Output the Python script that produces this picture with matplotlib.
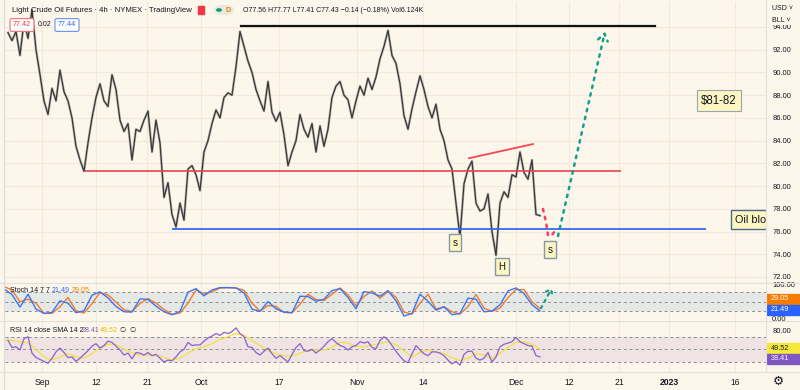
import numpy as np
import matplotlib
matplotlib.use('Agg')
import matplotlib.pyplot as plt
from matplotlib.patches import Rectangle, FancyBboxPatch, Circle
from matplotlib.lines import Line2D

plt.rcParams['font.family'] = ['Liberation Sans', 'DejaVu Sans']

# ---- data (x unit = one half-session bar) ----
price = [
    93.5, 92.8, 93.6, 91.5, 94.5, 93.0, 95.5, 92.0, 89.8, 87.5,
    86.3, 88.6, 87.5, 90.2, 88.3, 87.5, 86.0, 83.5, 82.3, 81.3,
    83.8, 86.0, 87.8, 89.0, 87.5, 87.0, 89.8, 88.5, 85.8, 84.8,
    85.5, 82.3, 85.0, 84.8, 85.8, 86.6, 83.0, 85.8, 83.8, 79.0,
    80.3, 77.5, 76.4, 78.5, 77.0, 81.5, 81.8, 81.0, 79.6, 83.0,
    84.0, 85.5, 86.7, 86.0, 87.8, 88.2, 88.0, 90.5, 93.6, 92.3,
    91.0, 90.0, 88.5, 87.5, 86.6, 89.2, 86.5, 85.7, 86.5, 84.5,
    81.8, 83.0, 84.0, 86.3, 85.0, 84.3, 85.5, 83.0, 85.3, 83.5,
    85.0, 87.8, 88.8, 89.2, 88.0, 87.6, 86.0, 87.5, 88.8, 88.0,
    89.5, 88.5, 89.6, 91.2, 92.3, 93.7, 91.5, 90.8, 89.0, 86.2,
    85.0, 86.8, 88.3, 89.7, 88.5, 87.0, 86.0, 87.2, 85.0, 84.0,
    82.3, 81.5, 78.5, 75.5, 80.2, 81.5, 82.2, 78.5, 77.8, 78.0,
    79.3, 76.0, 73.9, 78.5, 79.5, 79.0, 81.0, 80.8, 83.0, 81.2,
    80.6, 82.3, 77.5, 77.4,
]

rsi = [
    64, 53, 54, 49, 67, 70, 44, 37, 34, 31,
    28, 36, 46, 52, 45, 37, 38, 31, 36, 42,
    48, 55, 59, 52, 56, 63, 61, 55, 49, 41,
    44, 35, 45, 44, 41, 45, 40, 42, 36, 30,
    33, 32, 38, 46, 50, 61, 56, 57, 57, 63,
    68, 71, 75, 72, 77, 75, 78, 84, 75, 70,
    54, 53, 45, 41, 47, 52, 43, 36, 40, 35,
    30, 42, 53, 59, 48, 47, 50, 44, 49, 55,
    62, 67, 61, 56, 54, 49, 54, 56, 62, 60,
    62, 53, 51, 64, 70, 65, 56, 47, 39, 32,
    29, 43, 56, 49, 43, 40, 46, 46, 44, 40,
    33, 27, 31, 25, 42, 47, 47, 36, 33, 36,
    45, 30, 38, 54, 58, 60, 62, 69, 62, 59,
    56, 55, 40, 38,
]

# oscillators read every second bar
stoch_k = [
    88, 71, 33, 72, 27, 14, 17, 52, 45, 16,
    22, 69, 79, 61, 35, 19, 18, 58, 56, 36,
    19, 10, 20, 78, 89, 67, 85, 92, 92, 91,
    76, 27, 20, 50, 28, 18, 16, 66, 65, 51,
    57, 83, 89, 62, 28, 80, 76, 66, 83, 52,
    6, 14, 72, 51, 24, 34, 10, 14, 60, 57,
    19, 21, 40, 82, 91, 74, 40, 21,
]
stoch_d = [
    95, 85, 49, 57, 45, 14, 14, 34, 62, 22,
    15, 44, 77, 70, 48, 25, 20, 44, 59, 45,
    26, 11, 15, 45, 85, 73, 79, 91, 92, 91,
    84, 45, 21, 38, 35, 17, 16, 42, 72, 56,
    53, 72, 91, 70, 37, 65, 82, 60, 80, 63,
    18, 12, 45, 72, 27, 34, 19, 12, 35, 71,
    30, 20, 30, 62, 86, 86, 49, 29,
]
rsi_ma = [
    65, 64, 62, 60, 50, 38, 33, 38, 43, 38,
    36, 43, 52, 58, 58, 50, 44, 41, 41, 41,
    37, 33, 36, 44, 51, 54, 59, 66, 70, 75,
    72, 64, 56, 48, 43, 40, 39, 44, 48, 49,
    49, 53, 61, 60, 55, 54, 57, 59, 62, 57,
    48, 38, 45, 49, 46, 43, 37, 32, 36, 43,
    41, 36, 44, 53, 61, 62, 58, 50,
]

date_labels = ['Sep', '12', '21', 'Oct', '17', 'Nov', '14', 'Dec', '12', '21', '2023', '16']
date_pos = [8.5, 22, 34.75, 48.25, 67.75, 87.25, 103.75, 127, 140.25, 152.75, 165.25, 181.75]

# drawings: (x0, x1, level)
resistance = (58.25, 161.75, 94.1)
neckline = (19.5, 153.0, 81.3)
support = (41.25, 174.25, 76.2)
trend_x = [115.25, 131.25]
trend_y = [82.45, 83.7]
dip_x = [133.75, 134.5, 135.0, 135.75, 136.75]
dip_y = [77.98, 76.83, 75.69, 75.6, 76.04]
rally_x = [137.5, 149.25]
rally_y = [75.6, 93.6]
stoch_up_x = [133.25, 136.0]
stoch_up_y = [30, 91]
hs_labels = [('s', 111.75, 75.0), ('H', 123.5, 72.9), ('s', 135.5, 74.4)]

# ---- layout helpers ----
W, H = 800, 390
BG = '#fdf6ea'
GRID = '#f1e9da'
TXT = '#131722'
DASH = '#8a8d96'
TEAL = '#12a08a'


def fx(x):
    return x / W


def fy(y):
    return 1 - y / H


fig = plt.figure(figsize=(8, 3.9), dpi=100, facecolor=BG)
ax_p = fig.add_axes([fx(5), fy(283), 761 / W, 281 / H])
ax_s = fig.add_axes([fx(5), fy(321), 761 / W, 38 / H], sharex=ax_p)
ax_r = fig.add_axes([fx(5), fy(372), 761 / W, 51 / H], sharex=ax_p)

for ax in (ax_p, ax_s, ax_r):
    ax.set_facecolor(BG)
    for s in ax.spines.values():
        s.set_visible(False)
    ax.yaxis.tick_right()
    ax.tick_params(axis='y', length=0, pad=4.5, labelsize=5.4, labelcolor=TXT)
    ax.tick_params(axis='x', length=0)
    ax.set_xticks(date_pos)
    ax.grid(axis='x', color=GRID, lw=0.8)
    ax.set_axisbelow(True)

ax_p.set_xlim(-0.75, 189.5)

# ---- price pane ----
t = np.arange(len(price))
ax_p.set_ylim(71.47, 96.2)
ax_p.set_yticks(np.arange(72, 95, 2))
ax_p.set_yticklabels(['%.2f' % v for v in np.arange(72, 95, 2)])
ax_p.grid(axis='y', color=GRID, lw=0.8)
ax_p.plot(t, price, color='#8a8a85', lw=1.8, alpha=0.55)
ax_p.plot(t, price, color='#383838', lw=0.9)
ax_p.tick_params(labelbottom=False)

ax_p.plot(resistance[:2], [resistance[2]] * 2, color='#111111', lw=1.6)
ax_p.plot(neckline[:2], [neckline[2]] * 2, color='#e8414f', lw=1.4, alpha=0.85)
ax_p.plot(support[:2], [support[2]] * 2, color='#2f66f0', lw=1.4, alpha=0.9)
ax_p.plot(trend_x, trend_y, color='#f23645', lw=1.3, alpha=0.9)
ax_p.plot(dip_x, dip_y, color='#ff3b5c', lw=1.8, linestyle=(0, (1, 2.2)),
          dash_capstyle='round')
ax_p.annotate('', xy=(rally_x[1], rally_y[1]), xytext=(rally_x[0], rally_y[0]),
              arrowprops=dict(arrowstyle='->,head_length=0.5,head_width=0.35',
                              color=TEAL, lw=1.8, linestyle=(0, (1, 2.2)),
                              shrinkA=0, shrinkB=0))

for txt, bx, by in hs_labels:
    ax_p.text(bx, by, txt, ha='center', va='center', fontsize=7, color=TXT,
              bbox=dict(boxstyle='square,pad=0.35', fc='#fdf6c2', ec='#8796a8', lw=1))

ax_p.text(177.75, 87.5, '$81-82', ha='center', va='center', fontsize=8.3, color=TXT,
          bbox=dict(boxstyle='square,pad=0.4', fc='#fdf6c2', ec='#9aa5b3', lw=0.8))
ax_p.text(181.75, 77.05, 'Oil blowing up', ha='left', va='center', fontsize=7.8,
          color=TXT, clip_on=True,
          bbox=dict(boxstyle='square,pad=0.4', fc='#fdf6c2', ec='#4d6a8c', lw=1))

# ---- stochastic pane ----
to = np.arange(len(stoch_k)) * 2 - 1
ax_s.set_ylim(-9, 106)
ax_s.axhspan(20, 80, color='#e5e9e5', lw=0)
for lv in (20, 50, 80):
    ax_s.axhline(lv, color=DASH, lw=0.7, linestyle=(0, (3, 3)))
ax_s.plot(to, stoch_d, color='#f47b2a', lw=1.0)
ax_s.plot(to, stoch_k, color='#3d74f5', lw=1.0)
ax_s.annotate('', xy=(stoch_up_x[1], stoch_up_y[1]), xytext=(stoch_up_x[0], stoch_up_y[0]),
              arrowprops=dict(arrowstyle='->,head_length=0.3,head_width=0.25',
                              color=TEAL, lw=1.6, linestyle=(0, (1, 2.2)),
                              shrinkA=0, shrinkB=0))
ax_s.set_yticks([0, 100])
ax_s.set_yticklabels(['0.00', '100.00'])
ax_s.tick_params(labelbottom=False)

# ---- RSI pane ----
ax_r.set_ylim(14.2, 94.8)
ax_r.axhspan(30, 70, color='#efe4e3', lw=0)
for lv in (30, 50, 70):
    ax_r.axhline(lv, color=DASH, lw=0.7, linestyle=(0, (3, 3)))
ax_r.plot(to, rsi_ma, color='#f3e03c', lw=0.9)
ax_r.plot(t, rsi, color='#8a5fcf', lw=0.9)
ax_r.set_yticks([80])
ax_r.set_yticklabels(['80.00'])
ax_r.set_xticklabels(date_labels)
ax_r.tick_params(axis='x', labelsize=6.2, labelcolor=TXT, pad=4)
for lab in ax_r.get_xticklabels():
    if lab.get_text() == '2023':
        lab.set_fontweight('bold')

# ---- frame / separators ----
sep = '#e2e0da'
for yy in (283, 321, 372):
    fig.add_artist(Line2D([0, 1], [fy(yy), fy(yy)], color=sep, lw=0.8))
fig.add_artist(Line2D([fx(766), fx(766)], [fy(372), 1], color=sep, lw=0.8))
fig.add_artist(Line2D([fx(4), fx(4)], [0, 1], color='#d9dde6', lw=0.9))

# ---- header ----
fig.text(fx(12), fy(10), 'Light Crude Oil Futures · 4h · NYMEX · TradingView',
         fontsize=5.6, color=TXT, va='center')
fig.add_artist(Rectangle((fx(198), fy(13.5)), 6 / W, 7 / H, color='#f23645',
                         transform=fig.transFigure))
fig.add_artist(FancyBboxPatch((fx(214), fy(15)), 20 / W, 10 / H,
                              boxstyle='round,pad=0,rounding_size=0.012',
                              fc='#e7ead8', ec='none', transform=fig.transFigure))
fig.add_artist(Circle((fx(219), fy(10)), 2.2 / W, color='#089981',
                      transform=fig.transFigure))
fig.text(fx(228.5), fy(10), 'D', fontsize=5, color='#f57c00', ha='center',
         va='center', fontweight='bold')
fig.text(fx(243), fy(10), 'O77.56 H77.77 L77.41 C77.43 −0.14 (−0.18%) Vol6.124K',
         fontsize=5.0, color=TXT, va='center')

fig.text(fx(22), fy(25), '77.42', fontsize=5.2, color='#f23645', ha='center', va='center',
         bbox=dict(boxstyle='round,pad=0.4,rounding_size=0.25', fc='white',
                   ec='#f0717c', lw=0.8))
fig.text(fx(45), fy(25), '0.02', fontsize=5, color=TXT, ha='center', va='center')
fig.text(fx(67), fy(25), '77.44', fontsize=5.2, color='#2962ff', ha='center', va='center',
         bbox=dict(boxstyle='round,pad=0.4,rounding_size=0.25', fc='white',
                   ec='#6b8ff5', lw=0.8))

fig.text(fx(772), fy(9), 'USD ˅', fontsize=5, color=TXT, va='center')
fig.text(fx(772), fy(20), 'BLL ˅', fontsize=5, color=TXT, va='center',
         bbox=dict(boxstyle='square,pad=0.2', fc=BG, ec='none'))

lab = dict(fontsize=5.1, va='center')
fig.text(fx(10), fy(290), 'Stoch 14 7 7', color=TXT, **lab)
fig.text(fx(52), fy(290), '21.49', color='#2962ff', **lab)
fig.text(fx(72), fy(290), '29.05', color='#f57c00', **lab)
fig.text(fx(10), fy(330), 'RSI 14 close SMA 14 2', color=TXT, **lab)
fig.text(fx(82), fy(330), '38.41', color='#7e57c2', **lab)
fig.text(fx(100), fy(330), '49.52', color='#e0c400', **lab)
fig.text(fx(119), fy(330), '∅', color=TXT, **lab)
fig.text(fx(129), fy(330), '∅', color=TXT, **lab)

# last-value tags on the right scale
tags = [('29.05', 293.5, 304, '#f57c00', 'white'),
        ('21.49', 304.5, 315, '#2962ff', 'white'),
        ('49.52', 343, 353, '#f7e93c', TXT),
        ('38.41', 353.5, 363.5, '#7e57c2', 'white')]
for txt, y0, y1, fc, tc in tags:
    fig.add_artist(Rectangle((fx(767), fy(y1)), 33 / W, (y1 - y0) / H, color=fc,
                             transform=fig.transFigure))
    fig.text(fx(780), fy((y0 + y1) / 2), txt, fontsize=5.2, color=tc,
             ha='center', va='center')

fig.text(fx(778), fy(381), '⚙', fontsize=9, color=TXT, ha='center', va='center',
         family=['DejaVu Sans'])

fig.savefig('out.png', dpi=100, facecolor=BG)
